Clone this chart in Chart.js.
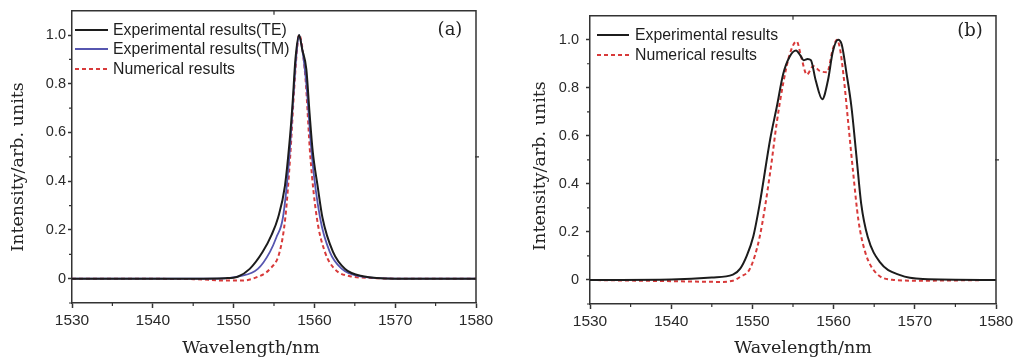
<!DOCTYPE html>
<html lang="en">
<head>
<meta charset="UTF-8">
<title>Transmission spectra</title>
<script src="https://cdn.jsdelivr.net/npm/chart.js"></script>
<style>
  body { margin: 0; background: #fff; }
  .panel { position: absolute; top: 0; width: 509px; height: 361px; }
  #panelA { left: 0; }
  #panelB { left: 509px; }
</style>
</head>
<body>
<div class="panel" id="panelA"><canvas id="chartA" width="509" height="361"></canvas></div>
<div class="panel" id="panelB"><canvas id="chartB" width="509" height="361"></canvas></div>
<script>
// (a) single resonance: wavelength (nm) and normalised intensity
const teWave = [1530, 1545, 1549, 1550.5, 1552, 1553.6, 1554.7, 1555.5, 1556.35, 1557.0, 1557.3, 1557.65, 1558.1, 1558.5, 1559.0, 1559.4, 1559.8, 1560.4, 1561.0, 1562.3, 1563.8, 1566, 1570, 1580];
const teIntensity = [0, 0, 0.002, 0.008, 0.04, 0.11, 0.18, 0.25, 0.38, 0.59, 0.72, 0.9, 1.0, 0.94, 0.86, 0.68, 0.52, 0.38, 0.25, 0.11, 0.04, 0.01, 0, 0];

const tmWave = [1530, 1548, 1550.8, 1553, 1554.5, 1555.3, 1556.1, 1556.9, 1557.4, 1557.8, 1558.1, 1558.5, 1559.0, 1559.7, 1560.7, 1561.9, 1563.4, 1565.5, 1570, 1580];
const tmIntensity = [0, 0, 0.01, 0.04, 0.11, 0.17, 0.25, 0.5, 0.75, 0.93, 1.0, 0.94, 0.8, 0.5, 0.25, 0.11, 0.04, 0.01, 0, 0];

const simWaveA = [1530, 1545, 1549, 1551, 1552.8, 1554.5, 1555.7, 1556.4, 1557.0, 1557.5, 1557.9, 1558.1, 1558.4, 1558.9, 1559.5, 1560.3, 1561.3, 1562.5, 1564.4, 1567, 1570, 1580];
const simIntensityA = [0, -0.002, -0.008, -0.008, 0.005, 0.04, 0.11, 0.25, 0.5, 0.78, 0.96, 1.0, 0.97, 0.82, 0.5, 0.25, 0.11, 0.04, 0.01, 0.003, 0, 0];

// (b) split resonance
const expWaveB = [1530, 1540, 1545, 1547.6, 1548.5, 1549.3, 1550.1, 1550.9, 1552.2, 1553.0, 1553.8, 1554.6, 1555.37, 1555.9, 1556.3, 1556.8, 1557.2, 1557.8, 1558.6, 1559.3, 1559.9, 1560.55, 1561.0, 1561.6, 1562.2, 1562.8, 1563.4, 1564.2, 1565.7, 1568.2, 1571, 1580];
const expIntensityB = [0, 0.002, 0.01, 0.022, 0.047, 0.10, 0.18, 0.317, 0.588, 0.72, 0.858, 0.93, 0.955, 0.935, 0.915, 0.92, 0.915, 0.83, 0.752, 0.83, 0.95, 1.0, 0.98, 0.858, 0.72, 0.52, 0.317, 0.18, 0.074, 0.02, 0.004, 0];

const simWaveB = [1530, 1540, 1546, 1547.6, 1548.5, 1549.7, 1550.9, 1552.2, 1553.0, 1553.8, 1554.6, 1555.45, 1556.0, 1556.7, 1557.5, 1558.3, 1559.2, 1559.9, 1560.4, 1560.8, 1561.2, 1561.8, 1562.4, 1563.05, 1563.9, 1565.1, 1567.4, 1570, 1580];
const simIntensityB = [0, -0.005, -0.008, -0.003, 0.013, 0.047, 0.18, 0.45, 0.655, 0.82, 0.94, 0.993, 0.93, 0.855, 0.89, 0.87, 0.865, 0.96, 1.0, 0.96, 0.858, 0.655, 0.45, 0.25, 0.115, 0.034, 0.0, -0.003, 0];

const xTicks = [1530, 1540, 1550, 1560, 1570, 1580];
const xTickLabels = ['1530', '1540', '1550', '1560', '1570', '1580'];
const xMinorTicks = [1535, 1545, 1555, 1565, 1575];
const yTicks = [0, 0.2, 0.4, 0.6, 0.8, 1.0];
const yTickLabels = ['0', '0.2', '0.4', '0.6', '0.8', '1.0'];
const yMinorTicks = [-0.1, 0.1, 0.3, 0.5, 0.7, 0.9];

const AXIS = '#333';
const SERIF = '"DejaVu Serif", serif';
const SANS = '"Liberation Sans", Arial, sans-serif';

function points(xs, ys) {
  return xs.map((x, i) => ({ x: x, y: ys[i] }));
}

function line(label, xs, ys, color, width, dash) {
  return {
    label: label,
    data: points(xs, ys),
    borderColor: color,
    borderWidth: width,
    borderDash: dash || [],
    pointRadius: 0,
    cubicInterpolationMode: 'monotone',
    fill: false
  };
}

// box, minor ticks, legend and text labels
const decor = {
  id: 'decor',
  afterDraw(chart, args, o) {
    const ctx = chart.ctx;
    const a = chart.chartArea;
    const xs = chart.scales.x, ys = chart.scales.y;
    ctx.save();
    ctx.strokeStyle = AXIS;
    ctx.lineWidth = 1.5;
    ctx.beginPath();
    ctx.moveTo(a.left, a.top);
    ctx.lineTo(a.right, a.top);
    ctx.lineTo(a.right, a.bottom);
    ctx.stroke();

    ctx.lineWidth = 1.2;
    ctx.beginPath();
    xMinorTicks.forEach(v => {
      const px = xs.getPixelForValue(v);
      ctx.moveTo(px, a.bottom);
      ctx.lineTo(px, a.bottom + 3);
    });
    yMinorTicks.forEach(v => {
      const py = ys.getPixelForValue(v);
      ctx.moveTo(a.left, py);
      ctx.lineTo(a.left - 3, py);
    });
    // mirrored axes carry a single mid tick
    const mx = xs.getPixelForValue(1555);
    ctx.moveTo(mx, a.top);
    ctx.lineTo(mx, a.top + 4);
    const my = ys.getPixelForValue(0.5);
    ctx.moveTo(a.right - 1, my);
    ctx.lineTo(a.right + 3, my);
    ctx.stroke();

    // legend
    ctx.font = '15.8px ' + SANS;
    ctx.textBaseline = 'middle';
    ctx.textAlign = 'left';
    chart.data.datasets.forEach((ds, i) => {
      const y = o.legendRows[i];
      ctx.strokeStyle = ds.borderColor;
      ctx.lineWidth = ds.borderWidth;
      ctx.setLineDash(ds.borderDash);
      ctx.beginPath();
      ctx.moveTo(o.legendLine[0], y);
      ctx.lineTo(o.legendLine[1], y);
      ctx.stroke();
      ctx.setLineDash([]);
      ctx.fillStyle = '#1e1e1e';
      ctx.fillText(ds.label, o.legendText, y + 1);
    });

    // panel tag and axis titles
    ctx.fillStyle = '#222';
    ctx.textAlign = 'center';
    ctx.font = '18px ' + SERIF;
    ctx.fillText(o.tag, o.tagPos[0], o.tagPos[1]);
    ctx.font = '17.5px ' + SERIF;
    ctx.fillText('Wavelength/nm', o.xTitle[0], o.xTitle[1]);
    ctx.translate(o.yTitle[0], o.yTitle[1]);
    ctx.rotate(-Math.PI / 2);
    ctx.fillText('Intensity/arb. units', 0, 0);
    ctx.restore();
  }
};

function makeChart(id, datasets, geo, decorOpts) {
  return new Chart(document.getElementById(id), {
    type: 'line',
    data: { datasets: datasets },
    plugins: [decor],
    options: {
      responsive: false,
      animation: false,
      events: [],
      layout: { padding: { top: geo.top, right: geo.right, left: 0, bottom: 0 } },
      plugins: {
        legend: { display: false },
        tooltip: { enabled: false },
        decor: decorOpts
      },
      scales: {
        x: {
          type: 'linear',
          min: 1530,
          max: 1580,
          afterBuildTicks: s => { s.ticks = xTicks.map(v => ({ value: v })); },
          afterFit: s => { s.height = geo.xHeight; },
          border: { color: AXIS, width: 1.5 },
          grid: { drawOnChartArea: false, drawTicks: true, tickLength: 5, tickColor: AXIS, tickWidth: 1.5 },
          ticks: {
            autoSkip: false,
            maxRotation: 0,
            padding: 3,
            color: '#2a2a2a',
            font: { family: SANS, size: 15.5 },
            callback: (v, i) => xTickLabels[i]
          }
        },
        y: {
          min: -0.1,
          max: 1.1,
          afterBuildTicks: s => { s.ticks = yTicks.map(v => ({ value: v })); },
          afterFit: s => { s.width = geo.yWidth; },
          border: { color: AXIS, width: 1.5 },
          grid: { drawOnChartArea: false, drawTicks: true, tickLength: 4, tickColor: AXIS, tickWidth: 1.5 },
          ticks: {
            padding: geo.yPad,
            color: '#2a2a2a',
            font: { family: SANS, size: 14.5 },
            callback: (v, i) => yTickLabels[i]
          }
        }
      }
    }
  });
}

makeChart('chartA', [
  line('Experimental results(TE)', teWave, teIntensity, '#1c1c1c', 2),
  line('Experimental results(TM)', tmWave, tmIntensity, '#5656b0', 1.8),
  line('Numerical results', simWaveA, simIntensityA, '#d83a3a', 2, [4, 3])
], { top: 7, right: 33, xHeight: 58, yWidth: 72, yPad: 2 }, {
  legendRows: [30, 49, 69], legendLine: [75, 108], legendText: 113,
  tag: '(a)', tagPos: [450, 30], xTitle: [251, 348], yTitle: [18, 167]
});

makeChart('chartB', [
  line('Experimental results', expWaveB, expIntensityB, '#1c1c1c', 2),
  line('Numerical results', simWaveB, simIntensityB, '#d83a3a', 2, [4, 3])
], { top: 6, right: 22, xHeight: 57, yWidth: 81, yPad: 7 }, {
  legendRows: [35, 55], legendLine: [88, 120], legendText: 126,
  tag: '(b)', tagPos: [461, 31], xTitle: [294, 348], yTitle: [31, 166]
});
</script>
</body>
</html>
